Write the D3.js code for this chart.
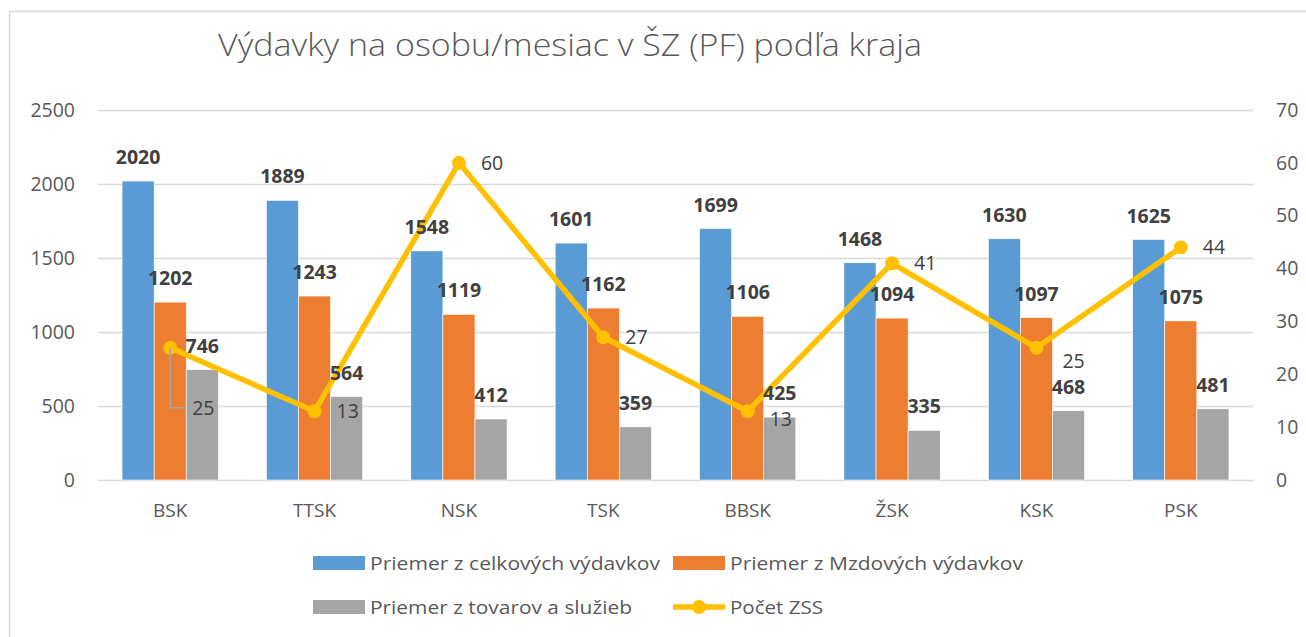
<!DOCTYPE html>
<html><head><meta charset="utf-8">
<script src="https://cdn.jsdelivr.net/npm/d3@7"></script>
<style>
body{margin:0;background:#fff;}
svg{display:block;font-family:"Open Sans","Liberation Sans",sans-serif;}
</style></head>
<body>
<svg id="chart" width="1306" height="637"></svg>
<script>
const title = "Výdavky na osobu/mesiac v ŠZ (PF) podľa kraja";
const categories = ["BSK","TTSK","NSK","TSK","BBSK","ŽSK","KSK","PSK"];
const seriesNames = ["Priemer z celkových výdavkov","Priemer z Mzdových výdavkov","Priemer z tovarov a služieb"];
const celkove = [2020,1889,1548,1601,1699,1468,1630,1625];
const mzdove = [1202,1243,1119,1162,1106,1094,1097,1075];
const tovary = [746,564,412,359,425,335,468,481];
const lineName = "Počet ZSS";
const pocetZSS = [25,13,60,27,13,41,25,44];
const leftTicks = [0,500,1000,1500,2000,2500];
const rightTicks = [0,10,20,30,40,50,60,70];
const colors = ["#5B9BD5","#ED7D31","#A5A5A5"];
const lineColor = "#FFC000";

const svg = d3.select("#chart");
const W = 1306, H = 637;
const plot = {left:98, right:1253, top:110, bottom:480};

// frame
svg.append("rect").attr("x",9.5).attr("y",11.5).attr("width",W).attr("height",H)
  .attr("fill","#fff").attr("stroke","#d9d9d9").attr("stroke-width",1.5);

// title
svg.append("text").attr("x",218).attr("y",56).attr("fill","#595959")
  .attr("font-size",31).attr("font-weight",300)
  .attr("textLength",704).attr("lengthAdjust","spacingAndGlyphs").text(title);

const x = d3.scaleBand().domain(categories).range([plot.left,plot.right])
  .paddingInner(1/3).paddingOuter(1/6);
const xs = d3.scaleBand().domain(d3.range(3)).range([0,x.bandwidth()]);
const y = d3.scaleLinear().domain([0,2500]).range([plot.bottom,plot.top]);
const y2 = d3.scaleLinear().domain([0,70]).range([plot.bottom,plot.top]);

// gridlines
svg.append("g").selectAll("line").data(leftTicks).join("line")
  .attr("x1",plot.left).attr("x2",plot.right)
  .attr("y1",d=>Math.round(y(d))+0.5).attr("y2",d=>Math.round(y(d))+0.5)
  .attr("stroke","#d9d9d9").attr("stroke-width",1.5);

// left axis
const la = svg.append("g").attr("transform",`translate(${plot.left},0)`)
  .call(d3.axisLeft(y).tickValues(leftTicks).tickFormat(d3.format("d")).tickSize(0).tickPadding(23));
la.select(".domain").remove();
la.selectAll("text").attr("font-size",19.5).attr("fill","#595959")
  .attr("font-family","'Open Sans',sans-serif");

// right axis
const ra = svg.append("g").attr("transform",`translate(${plot.right},0)`)
  .call(d3.axisRight(y2).tickValues(rightTicks).tickFormat(d3.format("d")).tickSize(0).tickPadding(23));
ra.select(".domain").remove();
ra.selectAll("text").attr("font-size",19.5).attr("fill","#595959")
  .attr("font-family","'Open Sans',sans-serif");

// bottom axis
const ba = svg.append("g").attr("transform",`translate(0,${plot.bottom})`)
  .call(d3.axisBottom(x).tickSize(0).tickPadding(24));
ba.select(".domain").remove();
ba.selectAll("text").attr("font-size",19).attr("fill","#595959")
  .attr("font-family","'Open Sans',sans-serif");

// bars
const seriesData = [celkove, mzdove, tovary];
const barG = svg.append("g");
seriesData.forEach((vals,si)=>{
  barG.selectAll(null).data(vals).join("rect")
    .attr("x",(d,i)=>x(categories[i])+xs(si))
    .attr("y",d=>y(d)).attr("width",xs.bandwidth())
    .attr("height",d=>y(0)-y(d))
    .attr("fill",colors[si]).attr("stroke","#fff").attr("stroke-width",0.6);
});

// line
const cx = i => x(categories[i]) + x.bandwidth()/2;
const line = d3.line().x((d,i)=>cx(i)).y(d=>y2(d));
svg.append("path").datum(pocetZSS).attr("d",line)
  .attr("fill","none").attr("stroke",lineColor).attr("stroke-width",5.5)
  .attr("stroke-linejoin","round");
svg.append("g").selectAll("circle").data(pocetZSS).join("circle")
  .attr("cx",(d,i)=>cx(i)).attr("cy",d=>y2(d)).attr("r",7).attr("fill",lineColor);

// bar labels
const lblG = svg.append("g");
seriesData.forEach((vals,si)=>{
  lblG.selectAll(null).data(vals).join("text")
    .attr("x",(d,i)=>x(categories[i])+xs(si)+xs.bandwidth()/2)
    .attr("y",d=>y(d)-17)
    .attr("text-anchor","middle").attr("font-size",19.5).attr("font-weight",700)
    .attr("fill","#404040").text(d=>d);
});

// line labels
const lineLblG = svg.append("g");
pocetZSS.forEach((d,i)=>{
  const px = cx(i), py = y2(d);
  let lx = px+22, ly = py;
  if(i===0){
    ly = py + 60; lx = px + 22;
    lineLblG.append("path").attr("d",`M${px},${py}V${ly}H${px+16}`)
      .attr("fill","none").attr("stroke","#a6a6a6").attr("stroke-width",1.5);
  } else if(i===6){
    ly = py + 13; lx = px + 26;
  } else if(i===4){
    ly = py + 8;
  }
  lineLblG.append("text").attr("x",lx).attr("y",ly).attr("dy","0.35em")
    .attr("font-size",19.5).attr("fill","#404040").text(d);
});

// legend
const legendItems = [
  {name:seriesNames[0], type:"bar", color:colors[0], x:313, y:563, w:290},
  {name:seriesNames[1], type:"bar", color:colors[1], x:673, y:563, w:293},
  {name:seriesNames[2], type:"bar", color:colors[2], x:313, y:607, w:262},
  {name:lineName, type:"line", color:lineColor, x:673, y:607, w:93}
];
const lg = svg.append("g");
legendItems.forEach(it=>{
  if(it.type==="bar"){
    lg.append("rect").attr("x",it.x).attr("y",it.y-7).attr("width",52).attr("height",14).attr("fill",it.color);
  } else {
    lg.append("line").attr("x1",it.x).attr("x2",it.x+52).attr("y1",it.y).attr("y2",it.y)
      .attr("stroke",it.color).attr("stroke-width",5.5);
    lg.append("circle").attr("cx",it.x+26).attr("cy",it.y).attr("r",7).attr("fill",it.color);
  }
  lg.append("text").attr("x",it.x+57).attr("y",it.y).attr("dy","0.35em")
    .attr("font-size",19).attr("fill","#595959")
    .attr("textLength",it.w).attr("lengthAdjust","spacingAndGlyphs").text(it.name);
});
</script>
</body></html>
